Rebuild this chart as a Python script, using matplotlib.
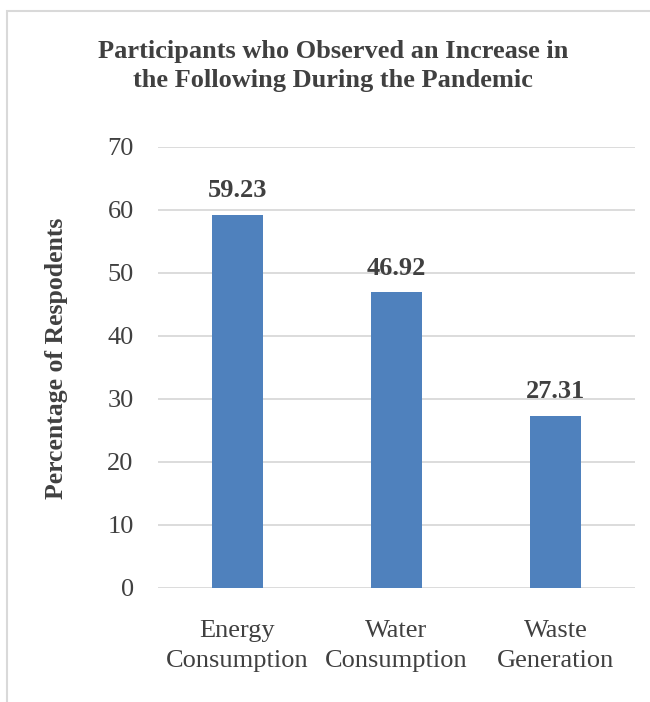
import matplotlib.pyplot as plt
from matplotlib.patches import Rectangle

# Survey results
categories = ['Energy\nConsumption', 'Water\nConsumption', 'Waste\nGeneration']
values = [59.23, 46.92, 27.31]
yticks = [0, 10, 20, 30, 40, 50, 60, 70]

plt.rcParams['font.family'] = ['Liberation Serif', 'DejaVu Serif']
txt = '#404040'

fig = plt.figure(figsize=(6.5, 7.02), dpi=100)
ax = fig.add_axes([0.243, 0.1624, 0.734, 0.6282])

# chart border (runs off the right and bottom edges)
fig.patches.append(Rectangle((7 / 650, -0.05), 1.1, 1 - 11 / 702 + 0.05,
                             transform=fig.transFigure, fill=False,
                             edgecolor='#d9d9d9', linewidth=1.5))

x = range(len(categories))
ax.bar(x, values, width=0.315, color='#4f81bd', zorder=3)
for i, v in zip(x, values):
    ax.annotate(f'{v:.2f}', (i, v), xytext=(0, 17.5), textcoords='offset points',
                ha='center', va='center', fontsize=19, fontweight='bold', color=txt)

ax.set_xlim(-0.5, 2.5)
ax.set_ylim(0, 70)
ax.set_yticks(yticks)
ax.set_xticks(list(x))
ax.set_xticklabels(categories, fontsize=19, color=txt, linespacing=1.45)
ax.tick_params(axis='y', labelsize=19, labelcolor=txt, length=0, pad=17.5)
ax.tick_params(axis='x', length=0, pad=23)
ax.yaxis.grid(True, color='#d9d9d9', linewidth=1.3, zorder=0)
for s in ax.spines.values():
    s.set_visible(False)

ax.set_ylabel('Percentage of Respodents', fontsize=18.5, fontweight='bold',
              color=txt, va='center')
ax.yaxis.set_label_coords((57 - 158) / 477, (588 - 358) / 441)
fig.text(0.512, 1 - 66 / 702, 'Participants who Observed an Increase in\nthe Following During the Pandemic',
         ha='center', va='center', fontsize=19, fontweight='bold', color=txt,
         linespacing=1.35)

fig.savefig('out.png', dpi=100)
